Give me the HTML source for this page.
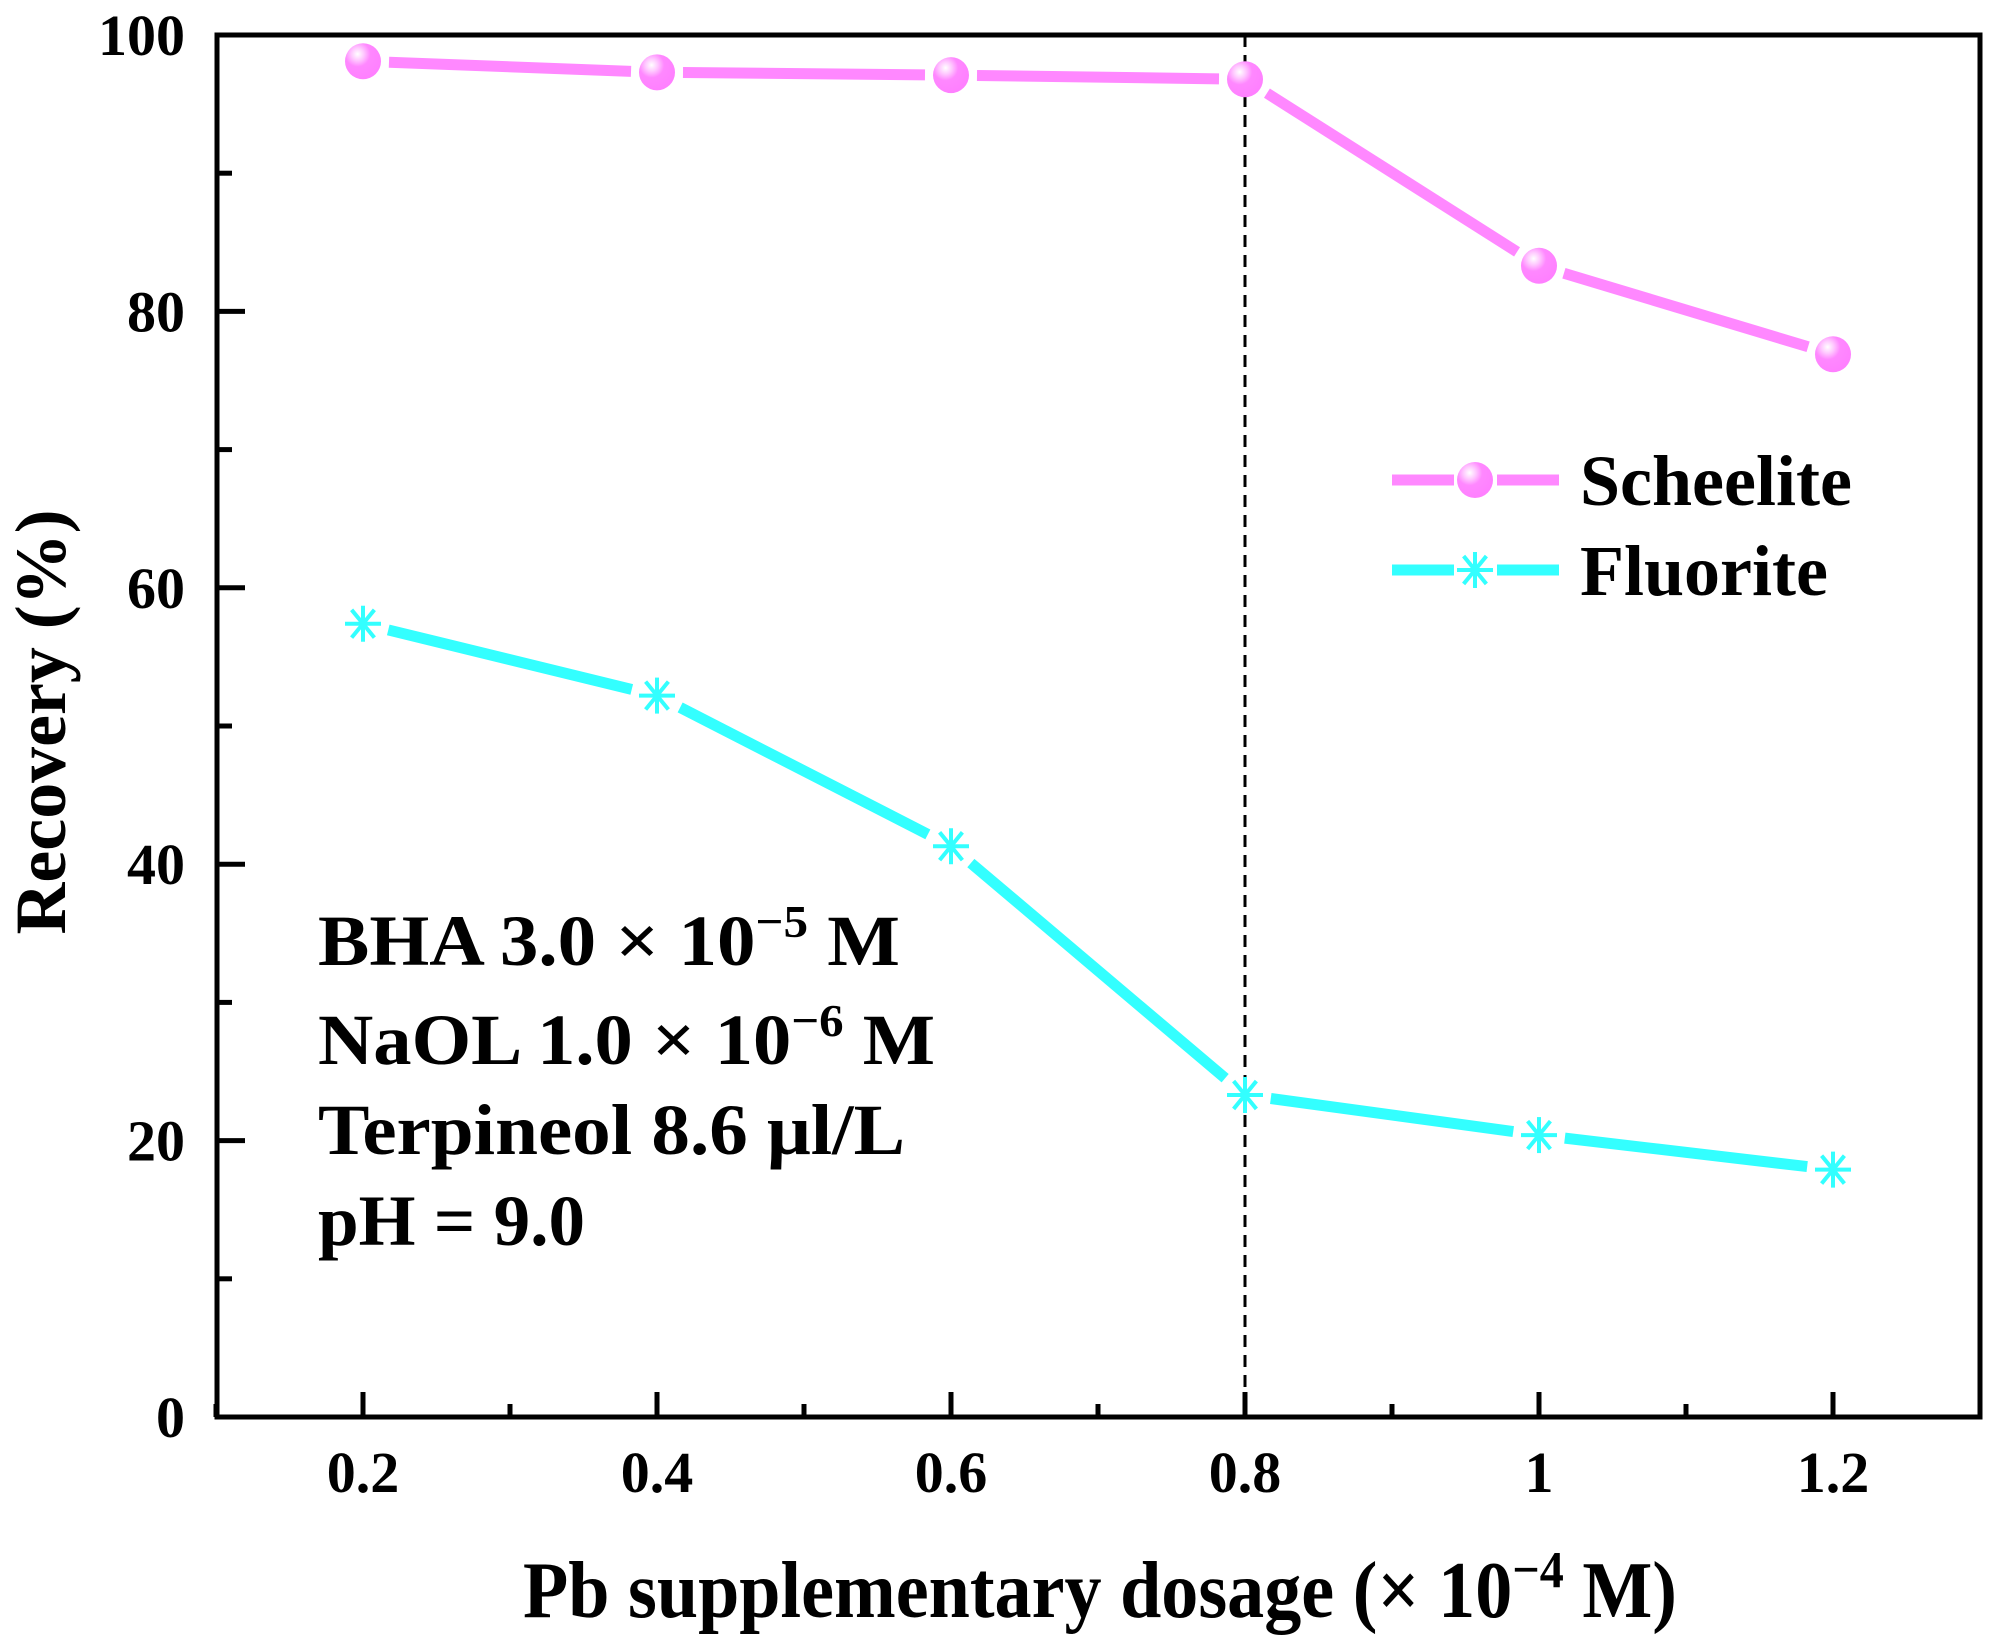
<!DOCTYPE html>
<html><head><meta charset="utf-8"><style>
html,body{margin:0;padding:0;background:#fff;}
svg{display:block;font-family:"Liberation Serif",serif;font-weight:bold;}
</style></head><body>
<svg id="chart" width="1993" height="1639" viewBox="0 0 1993 1639" xmlns="http://www.w3.org/2000/svg">
<defs>
<radialGradient id="ball" cx="0.35" cy="0.3" r="0.7">
<stop offset="0" stop-color="#ffffff"/><stop offset="0.25" stop-color="#ffc8ff"/><stop offset="0.5" stop-color="#ff88ff"/><stop offset="1" stop-color="#ff80ff"/>
</radialGradient>
</defs>
<g id="plot"></g>
<text transform="translate(65,722) rotate(-90)" text-anchor="middle" font-size="72" textLength="425" lengthAdjust="spacingAndGlyphs">Recovery (%)</text>
<text x="523" y="1617" font-size="80" textLength="1154" lengthAdjust="spacingAndGlyphs">Pb supplementary dosage (× 10<tspan font-size="52" dy="-30">−4</tspan><tspan dy="30"> M)</tspan></text>
<g font-size="72">
<text x="318" y="965" textLength="582" lengthAdjust="spacingAndGlyphs">BHA  3.0 × 10<tspan font-size="46" dy="-28">−5</tspan><tspan dy="28"> M</tspan></text>
<text x="318" y="1064" textLength="617" lengthAdjust="spacingAndGlyphs">NaOL  1.0 × 10<tspan font-size="46" dy="-28">−6</tspan><tspan dy="28"> M</tspan></text>
<text x="318" y="1154" textLength="587" lengthAdjust="spacingAndGlyphs">Terpineol  8.6 μl/L</text>
<text x="318" y="1245" textLength="267" lengthAdjust="spacingAndGlyphs">pH = 9.0</text>
</g>
<g>
<g>
<line x1="1392" y1="480" x2="1454" y2="480" stroke="#ff88ff" stroke-width="11"/>
<line x1="1497" y1="480" x2="1559" y2="480" stroke="#ff88ff" stroke-width="11"/>
<circle cx="1475" cy="480" r="18" fill="url(#ball)"/>
<text x="1580" y="505" font-size="72">Scheelite</text>
</g>
<g>
<line x1="1392" y1="570" x2="1454" y2="570" stroke="#33ffff" stroke-width="11"/>
<line x1="1497" y1="570" x2="1559" y2="570" stroke="#33ffff" stroke-width="11"/>
<g id="legstar"></g>
<text x="1580" y="595" font-size="72">Fluorite</text>
</g>
</g>
</svg>
<script>
const xCategories = [0.2, 0.4, 0.6, 0.8, 1.0, 1.2];
const xTickLabels = ["0.2", "0.4", "0.6", "0.8", "1", "1.2"];
const scheeliteValues = [98.1, 97.3, 97.1, 96.8, 83.3, 76.9];
const fluoriteValues = [57.4, 52.2, 41.3, 23.3, 20.4, 17.9];
const yTickValues = [0, 20, 40, 60, 80, 100];
const yTickLabels = ["0", "20", "40", "60", "80", "100"];
const markerLine = 0.8;

const L = 217, R = 1980, T = 35, B = 1417;
const xs = v => 363 + (v - 0.2) / 0.2 * 294;
const ys = v => B - v / 100 * (B - T);
const NS = "http://www.w3.org/2000/svg";
const g = document.getElementById('plot');
function mk(tag, attrs, parent) {
  const e = document.createElementNS(NS, tag);
  for (const k in attrs) e.setAttribute(k, attrs[k]);
  (parent || g).appendChild(e);
  return e;
}
const dl = mk('line', {x1: xs(markerLine), x2: xs(markerLine), y1: T, y2: B, stroke: '#000', 'stroke-width': 3, 'stroke-dasharray': '12,8'});


for (let v = 0; v <= 100; v += 10) {
  const major = v % 20 === 0;
  const t = mk('line', {x1: L, x2: L + (major ? 28 : 15), y1: ys(v), y2: ys(v), stroke: '#000', 'stroke-width': 5});
  
  
}
yTickValues.forEach((v, i) => {
  const t = mk('text', {x: 185, y: ys(v) + 20, 'text-anchor': 'end', 'font-size': 58});
  t.textContent = yTickLabels[i];
  
  
});
for (let v = 0.1; v < 1.35; v += 0.1) {
  const idx = Math.round(v * 10);
  const major = idx % 2 === 0;
  const t = mk('line', {x1: xs(v), x2: xs(v), y1: B, y2: B - (major ? 25 : 13), stroke: '#000', 'stroke-width': 5});
  
  
}
xCategories.forEach((v, i) => {
  const t = mk('text', {x: xs(v), y: 1492, 'text-anchor': 'middle', 'font-size': 58});
  t.textContent = xTickLabels[i];
  
  
});
const fr = mk('rect', {x: L, y: T, width: R - L, height: B - T, fill: 'none', stroke: '#000', 'stroke-width': 5});



function star(cx, cy, parent) {
  const s = mk('g', {stroke: '#33ffff', 'stroke-width': 4}, parent);
  const r = 18;
  for (let k = 0; k < 4; k++) {
    const ang = [0, Math.PI / 2, Math.PI / 4 + 0.1, -Math.PI / 4 - 0.1][k];
    mk('line', {x1: cx - r * Math.cos(ang), y1: cy - r * Math.sin(ang), x2: cx + r * Math.cos(ang), y2: cy + r * Math.sin(ang)}, s);
  }
  return s;
}
function series(vals, color, name, isBall) {
  const sg = mk('g', {});
  
  
  for (let i = 0; i < vals.length - 1; i++) {
    const x1 = xs(xCategories[i]), y1 = ys(vals[i]), x2 = xs(xCategories[i + 1]), y2 = ys(vals[i + 1]);
    const dx = x2 - x1, dy = y2 - y1, len = Math.hypot(dx, dy), gap = 26;
    mk('line', {x1: x1 + dx / len * gap, y1: y1 + dy / len * gap, x2: x2 - dx / len * gap, y2: y2 - dy / len * gap, stroke: color, 'stroke-width': 11}, sg);
  }
  vals.forEach((v, i) => {
    let m;
    if (isBall) m = mk('circle', {cx: xs(xCategories[i]), cy: ys(v), r: 18, fill: 'url(#ball)'}, sg);
    else m = star(xs(xCategories[i]), ys(v), sg);
    
    
  });
}
series(scheeliteValues, '#ff88ff', 'scheelite', true);
series(fluoriteValues, '#33ffff', 'fluorite', false);
star(1475, 570, document.getElementById('legstar'));
</script>
</body></html>
